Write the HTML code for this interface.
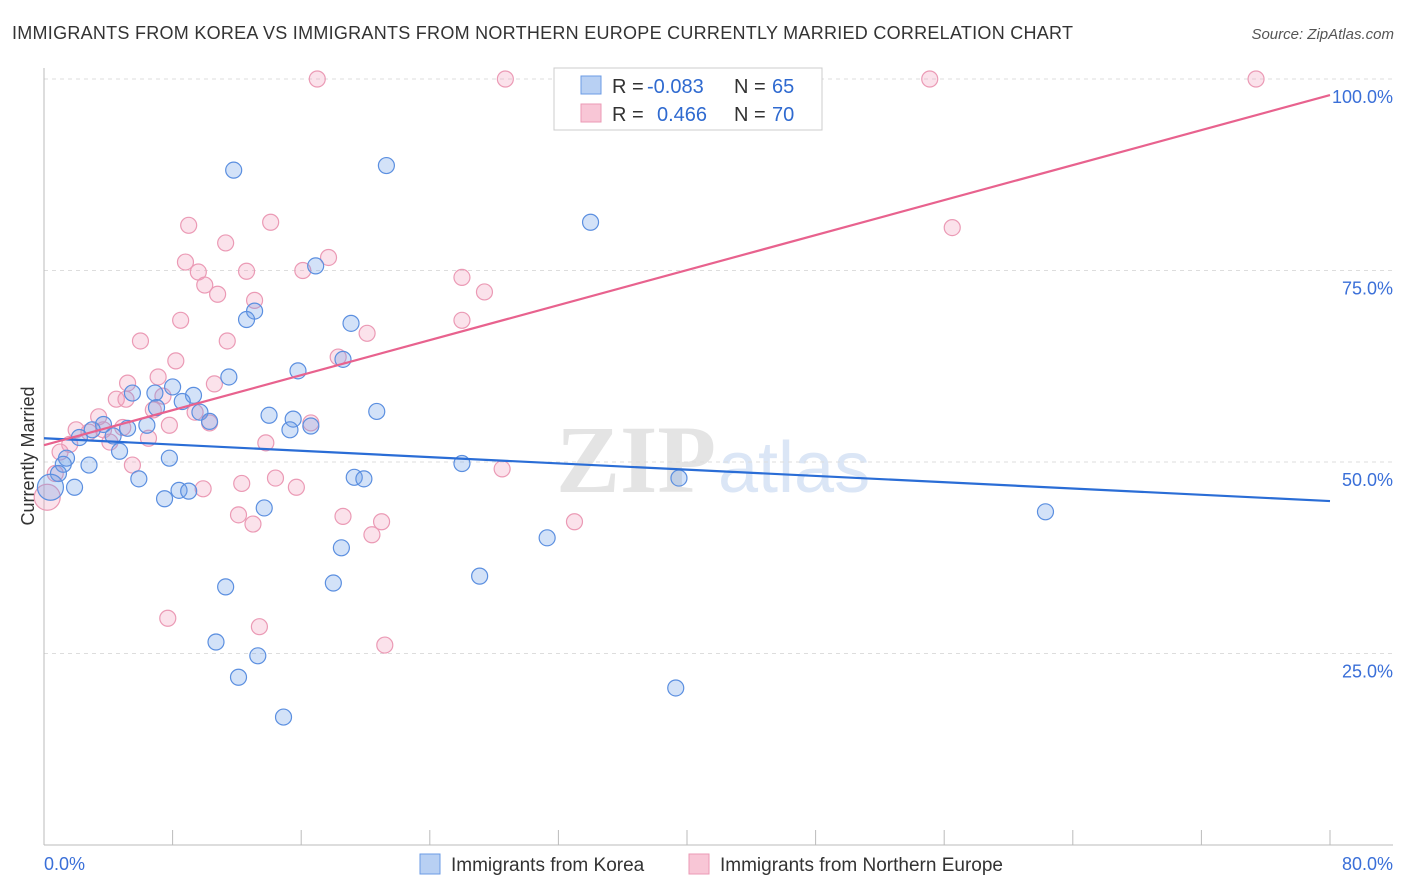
<!DOCTYPE html>
<html><head><meta charset="utf-8"><style>
body{margin:0;background:#fff;font-family:"Liberation Sans",sans-serif;}
#wrap{position:relative;width:1406px;height:892px;overflow:hidden}
</style></head><body><div id="wrap">
<svg id="svg" width="1406" height="892" xmlns="http://www.w3.org/2000/svg" font-family="Liberation Sans, sans-serif">
<text x="12" y="39" font-size="18" textLength="1061" lengthAdjust="spacing" fill="#333">IMMIGRANTS FROM KOREA VS IMMIGRANTS FROM NORTHERN EUROPE CURRENTLY MARRIED CORRELATION CHART</text>
<text x="1394" y="39" font-size="15" fill="#555" font-style="italic" text-anchor="end">Source: ZipAtlas.com</text>
<text x="716" y="492" font-size="96" font-weight="bold" fill="#e4e4e4" text-anchor="end" font-family="Liberation Serif, serif">ZIP</text>
<text x="718" y="492" font-size="72" fill="#dbe6f6">atlas</text>
<text x="34" y="456" font-size="18" fill="#333" text-anchor="middle" transform="rotate(-90 34 456)">Currently Married</text>
<g id="grid"></g><g id="pts"></g><g id="trend"></g>
<g>
<rect x="554" y="68" width="268" height="62" fill="#fff" stroke="#ccc"/>
<rect x="581" y="76" width="20" height="18" fill="#b8d0f3" stroke="#6b9be4"/>
<rect x="581" y="104" width="20" height="18" fill="#f8c6d6" stroke="#eb9ab5"/>
<text x="612" y="93" font-size="20" fill="#333">R =</text>
<text x="647" y="93" font-size="20" fill="#2f6ad0">-0.083</text>
<text x="734" y="93" font-size="20" fill="#333">N =</text>
<text x="772" y="93" font-size="20" fill="#2f6ad0">65</text>
<text x="612" y="121" font-size="20" fill="#333">R =</text>
<text x="657" y="121" font-size="20" fill="#2f6ad0">0.466</text>
<text x="734" y="121" font-size="20" fill="#333">N =</text>
<text x="772" y="121" font-size="20" fill="#2f6ad0">70</text>
</g>
<g>
<rect x="420" y="854" width="20" height="20" fill="#b8d0f3" stroke="#6b9be4"/>
<text x="451" y="871" font-size="19" fill="#333">Immigrants from Korea</text>
<rect x="689" y="854" width="20" height="20" fill="#f8c6d6" stroke="#eb9ab5"/>
<text x="720" y="871" font-size="19" fill="#333">Immigrants from Northern Europe</text>
</g>
</svg></div>
<script>
const blueX=[11.8,21.3,34.0,16.9,13.1,12.6,19.1,18.6,11.5,15.8,8.0,9.3,5.5,6.9,8.6,7.0,9.7,10.3,14.0,15.5,15.3,16.6,20.7,6.4,5.2,3.7,3.0,4.3,2.2,4.7,1.4,1.2,2.8,7.8,26.0,19.3,19.9,39.5,5.9,0.9,1.9,0.4,8.4,9.0,7.5,13.7,62.3,31.3,18.5,27.1,18.0,11.3,10.7,13.3,12.1,39.3,14.9];
const blueY=[88.1,88.7,81.3,75.6,69.7,68.6,68.1,63.4,61.1,61.9,59.8,58.7,59.0,59.0,57.9,57.1,56.5,55.3,56.1,55.6,54.2,54.7,56.6,54.8,54.4,54.9,54.2,53.4,53.2,51.4,50.5,49.7,49.6,50.5,49.8,48.0,47.8,47.9,47.8,48.5,46.7,46.7,46.3,46.2,45.2,44.0,43.5,40.1,38.8,35.1,34.2,33.7,26.5,24.7,21.9,20.5,16.7];
const pinkX=[17.0,28.7,55.1,75.4,9.0,14.1,56.5,11.3,17.7,8.8,9.6,12.6,16.1,10.0,26.0,27.4,10.8,13.1,8.5,26.0,20.1,11.4,6.0,18.3,8.2,7.1,5.2,10.6,7.4,4.5,5.1,6.8,9.4,3.4,10.3,16.6,7.8,4.9,2.0,3.7,2.8,6.5,4.1,1.6,13.8,1.0,5.5,28.5,0.7,14.4,12.3,15.7,9.9,0.2,12.1,18.6,13.0,21.0,33.0,20.4,7.7,13.4,21.2];
const pinkY=[100,100,100,100,80.9,81.3,80.6,78.6,76.7,76.1,74.8,74.9,75.0,73.1,74.1,72.2,71.9,71.1,68.5,68.5,66.8,65.8,65.8,63.7,63.2,61.1,60.3,60.2,58.6,58.2,58.2,56.8,56.5,55.9,55.1,55.1,54.8,54.5,54.2,54.2,53.9,53.1,52.6,52.3,52.5,51.3,49.6,49.1,48.5,47.9,47.2,46.7,46.5,45.4,43.1,42.9,41.9,42.2,42.2,40.5,29.6,28.5,26.1];
const blueTrend=[53.1,44.9];
const pinkTrend=[52.2,97.9];
const yTicks=[25,50,75,100];
const xTickLabels=["0.0%","80.0%"];
const NS="http://www.w3.org/2000/svg";
const X=v=>44+v/80*1286, Y=v=>845-v/100*766;
function mk(t,a,p){const e=document.createElementNS(NS,t);for(const k in a)e.setAttribute(k,a[k]);p.appendChild(e);return e;}
const g=document.getElementById('grid');
yTicks.forEach(v=>{
 const l=mk('line',{x1:44,x2:1393,y1:Y(v),y2:Y(v),stroke:'#ddd','stroke-dasharray':'4,4'},g);
 
 
 const t=mk('text',{x:1393,y:Y(v)+24,'font-size':18,fill:'#3a6fd8','text-anchor':'end'},g);t.textContent=v.toFixed(1)+'%';
 
 
});
const ax=mk('line',{x1:44,x2:44,y1:68,y2:845,stroke:'#bbb'},g);


const bx=mk('line',{x1:44,x2:1393,y1:845,y2:845,stroke:'#bbb'},g);


for(let i=0;i<=10;i++){const tk=mk('line',{x1:X(i*8),x2:X(i*8),y1:830,y2:845,stroke:'#bbb'},g);
 
 }
[[0,44,'start'],[1,1393,'end']].forEach(([i,x,a])=>{const t=mk('text',{x:x,y:870,'font-size':18,fill:'#3a6fd8','text-anchor':a},g);t.textContent=xTickLabels[i];
 
 });
const p=document.getElementById('pts');
function pts(xs,ys,fill,stroke,name){xs.forEach((x,i)=>{const big=x<0.5;
 const c=mk('circle',{cx:X(x),cy:Y(ys[i]),r:big?13:8,fill:fill,stroke:stroke,'stroke-width':1.2},p);
 
 });}
pts(pinkX,pinkY,'rgba(242,160,188,0.3)','#eb9ab5','point-northern-europe');
pts(blueX,blueY,'rgba(110,160,232,0.3)','#5b8fe0','point-korea');
const tr=document.getElementById('trend');
const l1=mk('line',{x1:X(0),y1:Y(blueTrend[0]),x2:X(80),y2:Y(blueTrend[1]),stroke:'#2a6dd6','stroke-width':2.2},tr);


const l2=mk('line',{x1:X(0),y1:Y(pinkTrend[0]),x2:X(80),y2:Y(pinkTrend[1]),stroke:'#e8628e','stroke-width':2.2},tr);


</script></body></html>
